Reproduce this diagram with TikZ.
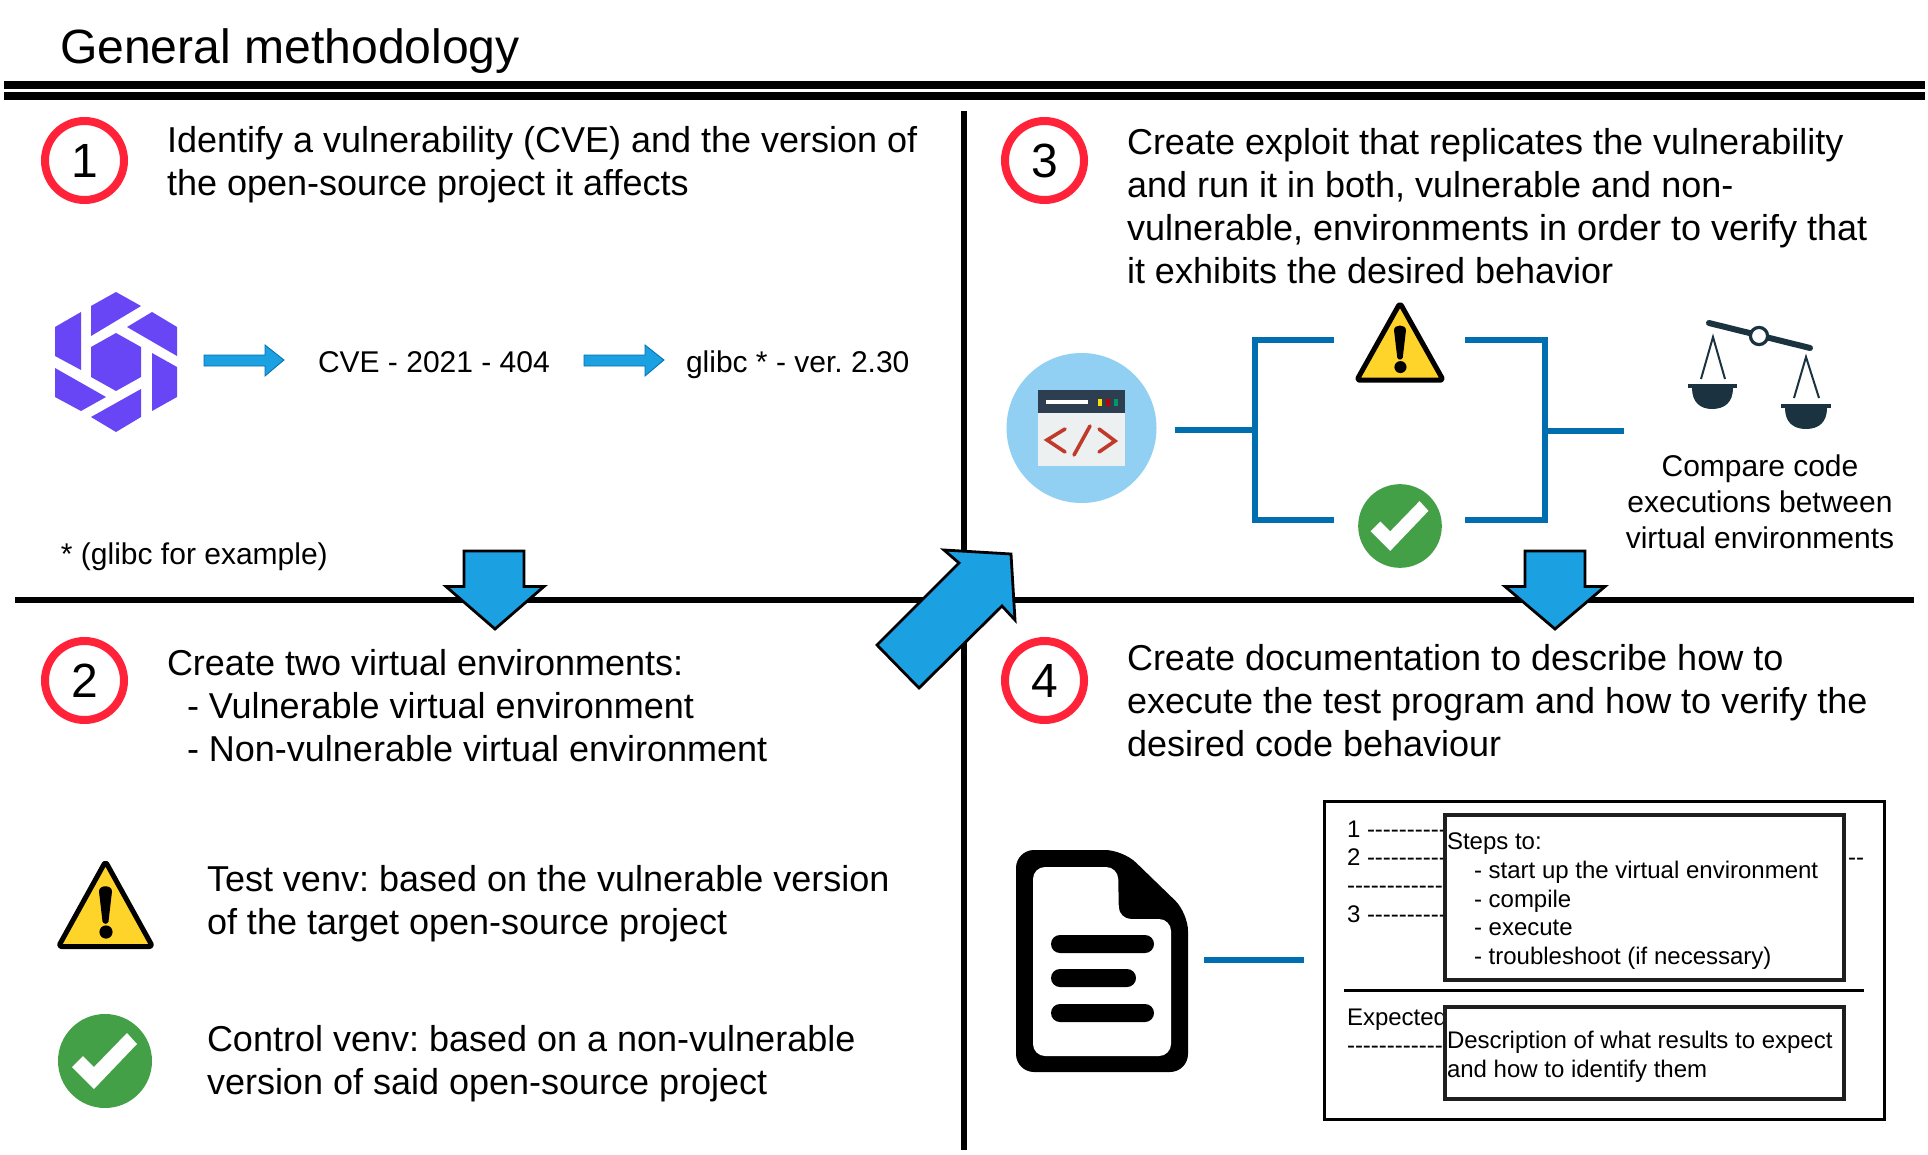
\documentclass[tikz,border=0pt]{standalone}
\usepackage{fontspec}
\setmainfont[Ligatures=TeXOff]{Liberation Sans}
\frenchspacing
\definecolor{arrowblue}{HTML}{1BA1E2}
\definecolor{linkblue}{HTML}{006EAF}
\definecolor{ringred}{HTML}{FF2238}
\definecolor{logopurple}{HTML}{6846F5}
\definecolor{warnyellow}{HTML}{FFD42A}
\definecolor{okgreen}{HTML}{43A047}
\definecolor{scaledark}{HTML}{1B3340}
\definecolor{winhead}{HTML}{2C3E50}
\definecolor{winbody}{HTML}{ECF0F1}
\definecolor{codered}{HTML}{C0392B}
\definecolor{codeblue}{HTML}{91D0F2}
\tikzset{
  x=0.5pt,y=-0.5pt,
  lbl/.style={anchor=base west,inner sep=0pt,outer sep=0pt,text=black},
  big/.style={lbl,font=\fontsize{18}{21}\selectfont},
  mid/.style={lbl,font=\fontsize{15}{18}\selectfont},
  small/.style={lbl,font=\fontsize{12}{14}\selectfont},
  num/.style={circle,draw=ringred,line width=4pt,minimum size=39.5pt,inner sep=0pt,font=\fontsize{24}{28}\selectfont},
  rulerline/.style={draw=black,line width=3.4pt},
  titlerule/.style={draw=black,line width=4pt},
  linkline/.style={draw=linkblue,line width=3pt},
  fat/.style={fill=arrowblue,draw=black,line width=1.4pt,line join=miter},
  thin/.style={fill=arrowblue,draw=linkblue,line width=0.4pt},
  box/.style={draw=black!88,line width=2pt,fill=white},
  warnicon/.pic={
    \draw[fill=warnyellow,draw=black,line width=2.5pt,line join=round,rounded corners=1.5pt] (0,-44) -- (47,41) -- (-47,41) -- cycle;
    \fill[black] (-6.5,-14) .. controls (-6.5,-21) and (6.5,-21) .. (6.5,-14) -- (3,16) .. controls (2,19) and (-2,19) .. (-3,16) -- cycle;
    \fill[black] (0.5,26.5) circle[radius=3.3pt];
  },
  okicon/.pic={
    \fill[okgreen] (0,0) circle[radius=23.5pt];
    \fill[white] (-33,6) -- (-22,-5) -- (-11,6) -- (22,-28) -- (32,-17) -- (-11,28) -- cycle;
  },
}
\begin{document}
\begin{tikzpicture}
\useasboundingbox (0,0) rectangle (1928,1155);
\fill[white] (0,0) rectangle (1928,1155);

% title and rules
\node[lbl,font=\fontsize{24.05}{28}\selectfont] (title) at (60,64) {General methodology};
\coordinate (rulea) at (4,85); \coordinate (ruleb) at (1925,85);
\coordinate (rulec) at (4,96); \coordinate (ruled) at (1925,96);
\draw[titlerule] (rulea) -- (ruleb);
\draw[titlerule] (rulec) -- (ruled);
\coordinate (hl) at (15,600); \coordinate (hr) at (1914,600);
\coordinate (vt) at (964,111); \coordinate (vb) at (964,1150);
\draw[rulerline] (hl) -- (hr);
\draw[rulerline] (vt) -- (vb);

% number rings
\node[num] (n1) at (84.5,160.5) {1};
\node[num] (n2) at (84.5,680.5) {2};
\node[num] (n3) at (1044.5,160.5) {3};
\node[num] (n4) at (1044.5,680.5) {4};

% panel 1
\node[big] (t1a) at (167,153) {Identify a vulnerability (CVE) and the version of};
\node[big] (t1b) at (167,196) {the open-source project it affects};
\fill[logopurple] (91,306) -- (116,292) -- (141,306) -- (91,336) -- cycle;
\fill[logopurple] (127,327) -- (152,312) -- (177,327) -- (177,356) -- cycle;
\fill[logopurple] (152,353) -- (177,367) -- (177,397) -- (152,411) -- cycle;
\fill[logopurple] (141,389) -- (141,417) -- (116,432) -- (91,417) -- cycle;
\fill[logopurple] (55,368) -- (106,397) -- (81,411) -- (55,397) -- cycle;
\fill[logopurple] (55,327) -- (81,312) -- (81,370) -- (55,356) -- cycle;
\fill[logopurple] (116,333) -- (141,347) -- (141,377) -- (116,391) -- (91,377) -- (91,347) -- cycle;
\draw[thin] (204,355) -- (265,355) -- (265,345) -- (284,360) -- (265,376) -- (265,366) -- (204,366) -- cycle;
\draw[thin] (584,355) -- (645,355) -- (645,345) -- (664,360) -- (645,376) -- (645,366) -- (584,366) -- cycle;
\node[mid] (cve) at (318,372) {CVE - 2021 - 404};
\node[mid] (glibc) at (686,372) {glibc * - ver. 2.30};
\node[mid] (foot) at (61,564) {* (glibc for example)};

% panel 3
\node[big] (t3a) at (1127,155) {Create exploit that replicates the vulnerability};
\node[big] (t3b) at (1127,198) {and run it in both, vulnerable and non-};
\node[big] (t3c) at (1127,241) {vulnerable, environments in order to verify that};
\node[big] (t3d) at (1127,284) {it exhibits the desired behavior};
\fill[codeblue] (1081.5,428) circle[radius=37.5pt];
\fill[winbody] (1038,413) rectangle (1125,466);
\fill[winhead] (1038,390) rectangle (1125,413);
\fill[white] (1046,400) rectangle (1088,404);
\fill[yellow!80!orange] (1098,399) rectangle (1102,406);
\fill[red!75!black] (1106,399) rectangle (1110,406);
\fill[teal!80!green] (1114,399) rectangle (1118,406);
\draw[codered,line width=1.8pt,line cap=round] (1065,429) -- (1047,440) -- (1065,452);
\draw[codered,line width=1.8pt,line cap=round] (1090,426) -- (1074,455);
\draw[codered,line width=1.8pt,line cap=round] (1099,429) -- (1115,441) -- (1099,452);
\coordinate (ls) at (1175,430); \coordinate (lm) at (1255,430);
\coordinate (ult) at (1255,340); \coordinate (ulb) at (1255,520);
\coordinate (ute) at (1334,340); \coordinate (ube) at (1334,520);
\coordinate (urt) at (1545,340); \coordinate (urb) at (1545,520);
\coordinate (vte) at (1465,340); \coordinate (vbe) at (1465,520);
\coordinate (rm) at (1545,431); \coordinate (rs) at (1624,431);
\draw[linkline] (ls) -- (lm);
\draw[linkline,line join=miter] (ute) -- (ult) -- (ulb) -- (ube);
\draw[linkline,line join=miter] (vte) -- (urt) -- (urb) -- (vbe);
\draw[linkline] (rm) -- (rs);
\pic[xscale=0.92,yscale=0.908] at (1400,343) {warnicon};
\pic[scale=0.89] at (1400,526) {okicon};
% balance
\draw[scaledark,line width=3pt,line cap=round] (1709,323) -- (1810,348);
\draw[scaledark,fill=white,line width=1.6pt] (1759,336) circle[radius=4.3pt];
\draw[scaledark,line width=1pt] (1701,379) -- (1713,337) -- (1725,379);
\draw[scaledark,line width=1pt] (1794,398) -- (1806,357) -- (1819,398);
\fill[scaledark] (1688,384) rectangle (1737,388);
\fill[scaledark] (1692,388) -- (1733,388) .. controls (1733,402) and (1725,409) .. (1712,409) .. controls (1700,409) and (1692,402) .. (1692,388) -- cycle;
\fill[scaledark] (1781,404) rectangle (1831,408);
\fill[scaledark] (1785,408) -- (1827,408) .. controls (1827,422) and (1819,429) .. (1806,429) .. controls (1793,429) and (1785,422) .. (1785,408) -- cycle;
\node[mid,anchor=base] (c1) at (1760,476) {Compare code};
\node[mid,anchor=base] (c2) at (1760,512) {executions between};
\node[mid,anchor=base] (c3) at (1760,548) {virtual environments};

% panel 2
\node[big] (t2a) at (167,675) {Create two virtual environments:};
\node[big] (t2b) at (187,718) {- Vulnerable virtual environment};
\node[big] (t2c) at (187,761) {- Non-vulnerable virtual environment};
\pic at (105.5,905.5) {warnicon};
\pic at (105,1061) {okicon};
\node[big] (t2d) at (207,891) {Test venv: based on the vulnerable version};
\node[big] (t2e) at (207,934) {of the target open-source project};
\node[big] (t2f) at (207,1051) {Control venv: based on a non-vulnerable};
\node[big] (t2g) at (207,1094) {version of said open-source project};

% panel 4
\node[big] (t4a) at (1127,670) {Create documentation to describe how to};
\node[big] (t4b) at (1127,713) {execute the test program and how to verify the};
\node[big] (t4c) at (1127,756) {desired code behaviour};
% document icon
\fill[black,rounded corners=9pt] (1016,850) -- (1123,850) -- (1188,913) -- (1188,1072) -- (1016,1072) -- cycle;
\fill[white,rounded corners=6pt] (1033,867) -- (1118,867) -- (1119,919) -- (1171,919) -- (1171,1056) -- (1033,1056) -- cycle;
\fill[black,rounded corners=4.5pt] (1051,935) rectangle (1154,953);
\fill[black,rounded corners=4.5pt] (1051,969) rectangle (1136,987);
\fill[black,rounded corners=4.5pt] (1051,1004) rectangle (1154,1022);
\coordinate (ds) at (1204,960); \coordinate (de) at (1304,960);
\draw[linkline] (ds) -- (de);
% page mock-up
\node[draw=black,line width=1.5pt,minimum width=280pt,minimum height=159pt,inner sep=0pt] (page) at (1604.5,960) {};
\node[small] (l1) at (1347,837) {1 ----------};
\node[small] (l2) at (1347,865) {2 ----------};
\node[small] (l2b) at (1848,865) {--};
\node[small] (l3) at (1347,893) {-------------};
\node[small] (l4) at (1347,922) {3 ----------};
\node[small] (l5) at (1347,1025) {Expected};
\node[small] (l6) at (1347,1053) {-------------};
\coordinate (sepa) at (1344,990); \coordinate (sepb) at (1864,990);
\draw[black,line width=1.5pt] (sepa) -- (sepb);
\node[box,minimum width=199.5pt,minimum height=82.5pt,inner sep=0pt] (steps) at (1644.5,897.5) {};
\node[box,minimum width=199.5pt,minimum height=46pt,inner sep=0pt] (expect) at (1644.5,1053) {};
\node[small] (s1) at (1447,849) {Steps to:};
\node[small] (s2) at (1474,878) {- start up the virtual environment};
\node[small] (s3) at (1474,907) {- compile};
\node[small] (s4) at (1474,935) {- execute};
\node[small] (s5) at (1474,964) {- troubleshoot (if necessary)};
\node[small] (d1) at (1447,1048) {Description of what results to expect};
\node[small] (d2) at (1447,1077) {and how to identify them};

% large arrows
\draw[fat] (464,551) -- (524,551) -- (524,586.5) -- (544,586.5) -- (495,629) -- (446,586.5) -- (464,586.5) -- cycle;
\draw[fat] (1525,551) -- (1585,551) -- (1585,586.5) -- (1605,586.5) -- (1555,629) -- (1505,586.5) -- (1525,586.5) -- cycle;
\draw[fat] (944,550) -- (1011,554) -- (1015,620) -- (1002,606) -- (919,688) -- (877,645) -- (959,563) -- cycle;
\end{tikzpicture}
\end{document}
